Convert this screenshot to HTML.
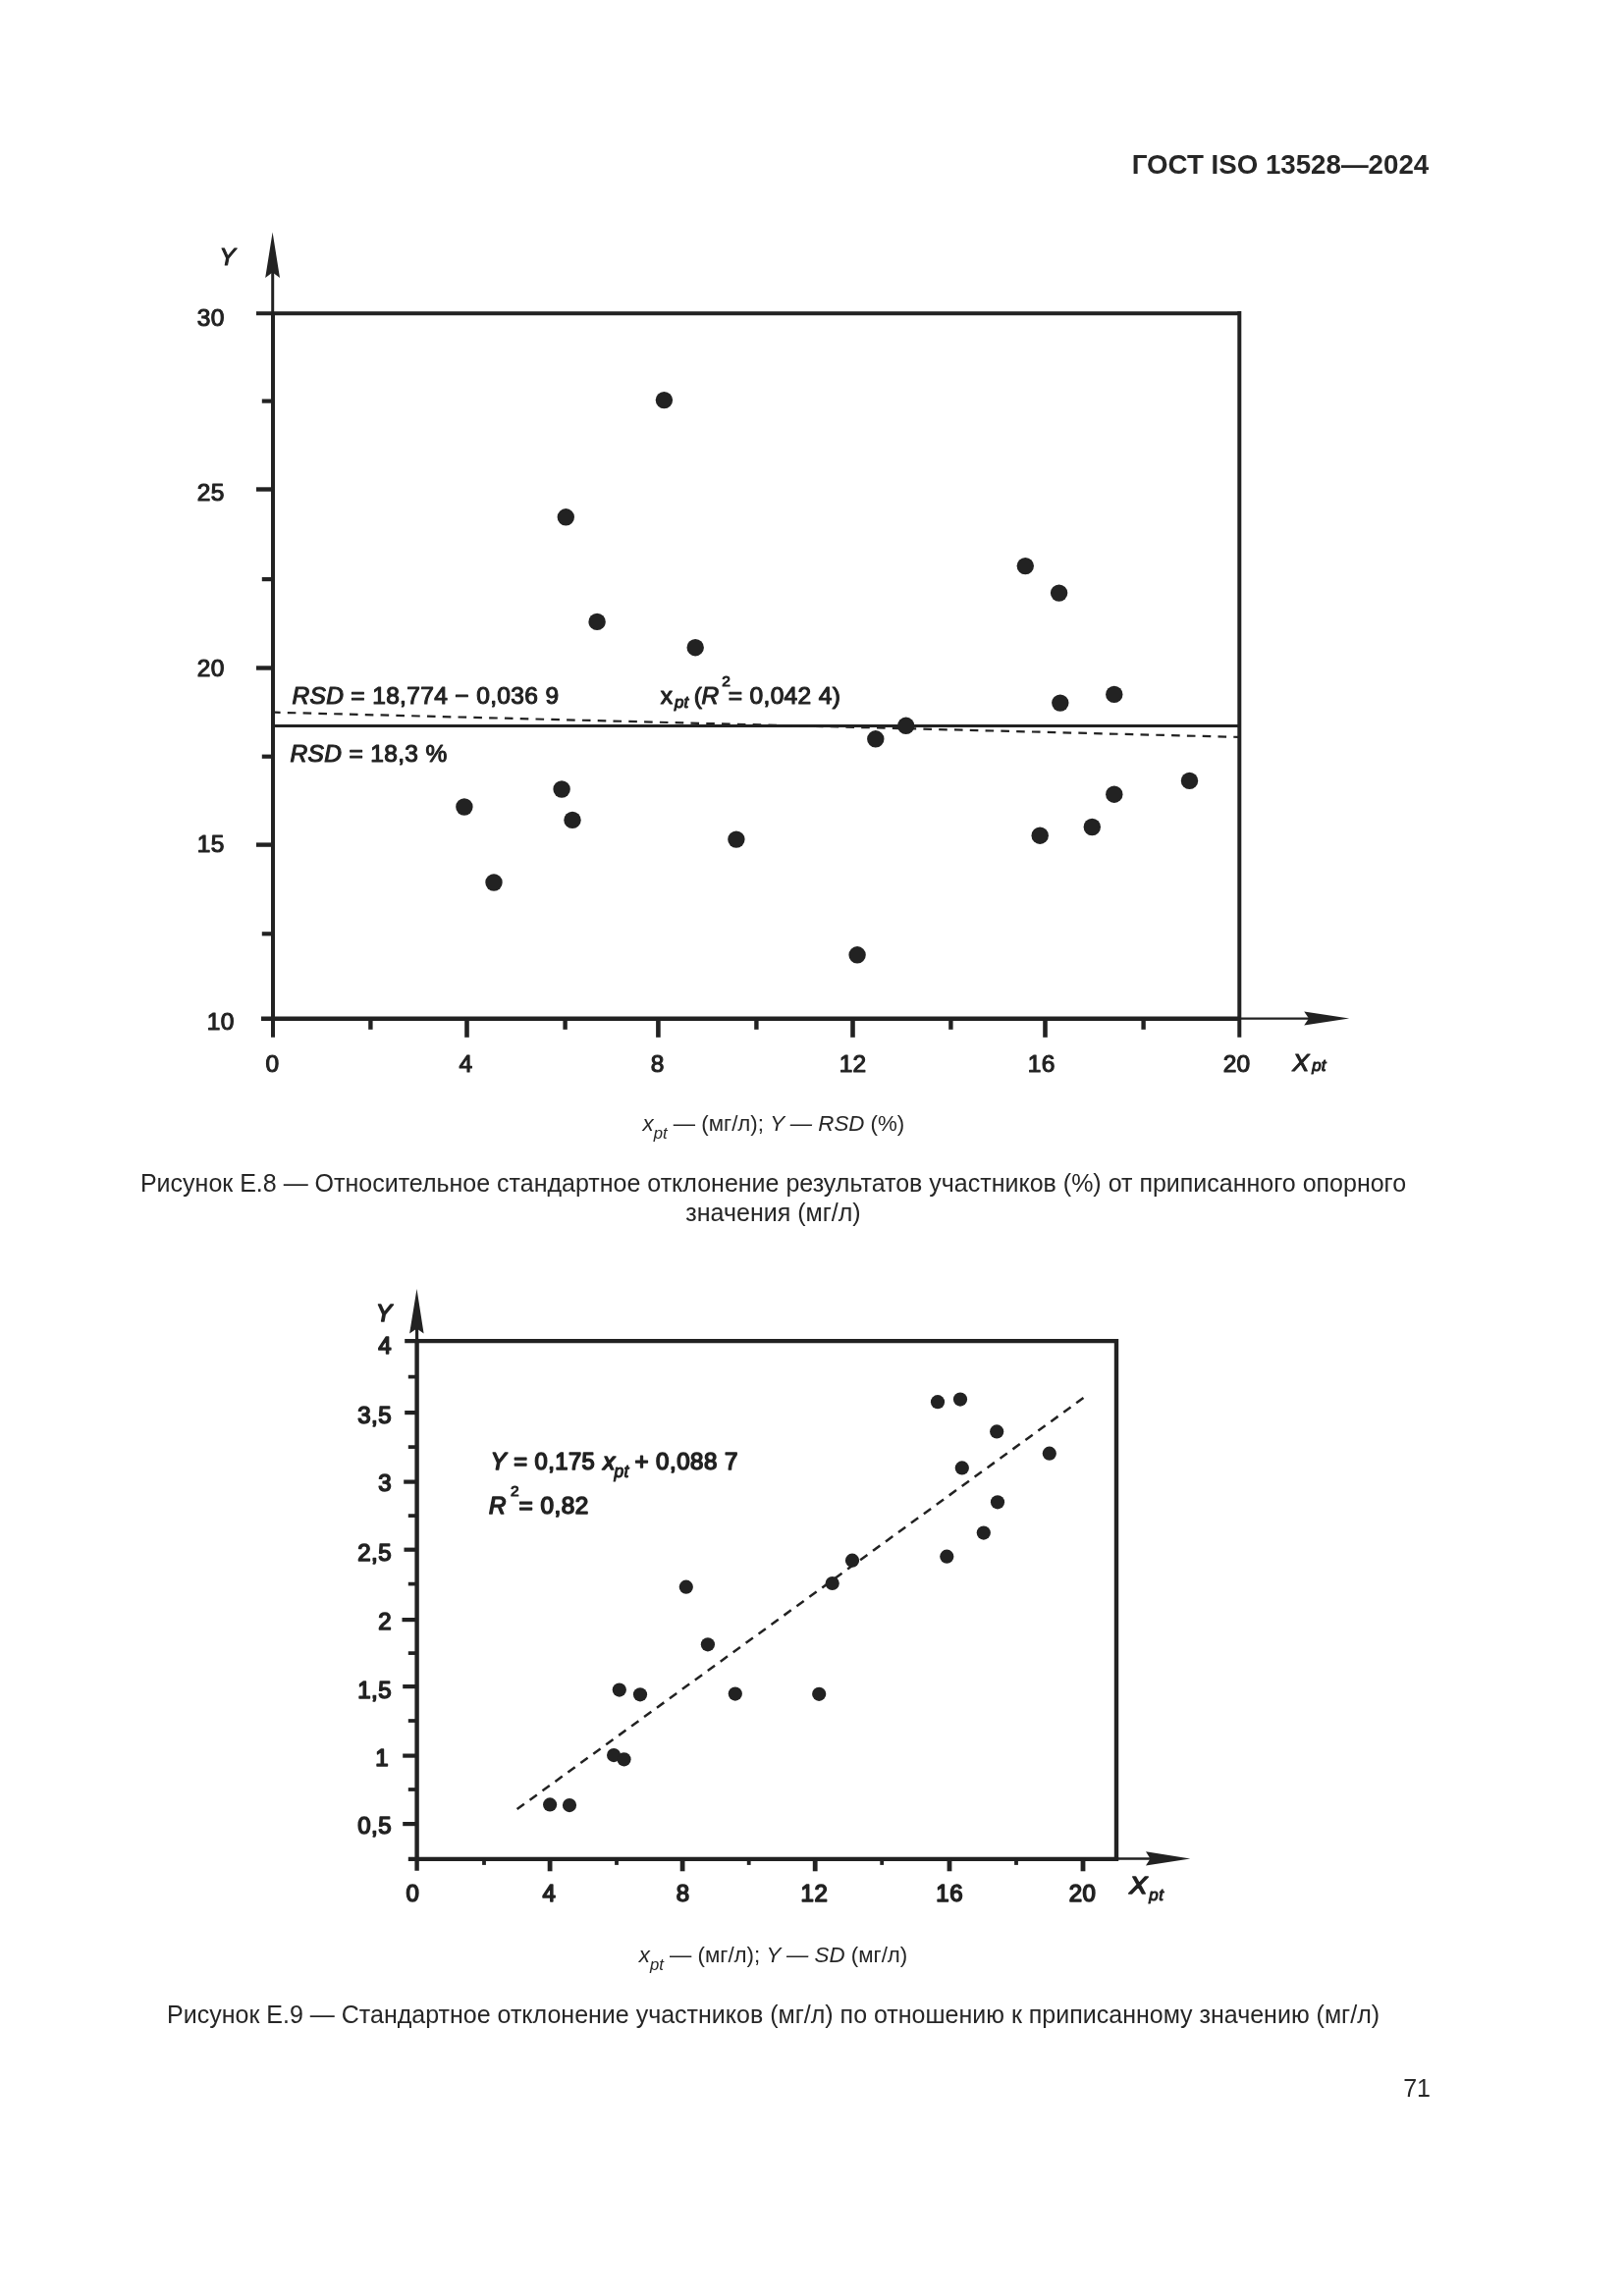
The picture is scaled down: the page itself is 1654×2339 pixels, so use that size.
<!DOCTYPE html>
<html lang="ru"><head><meta charset="utf-8"><title>ГОСТ ISO 13528—2024</title>
<style>
html,body{margin:0;padding:0;background:#fff;}
body{width:1654px;height:2339px;position:relative;overflow:hidden;font-family:"Liberation Sans",sans-serif;color:#262626;}
#pg{position:absolute;left:0;top:0;width:1654px;height:2339px;will-change:transform;}
svg{position:absolute;left:0;top:0;}
text{font-family:"Liberation Sans",sans-serif;fill:#222222;stroke:#222222;stroke-linejoin:round;white-space:pre;}
.a{font-size:24.5px;stroke-width:1.1px;letter-spacing:0.35px;}
.b{font-size:24px;stroke-width:1.55px;letter-spacing:0.5px;}
.i{font-style:italic;}
.cap{position:absolute;left:119px;width:1336px;text-align:center;font-size:25px;line-height:30px;white-space:nowrap;}
.sub{position:absolute;left:119px;width:1336px;text-align:center;font-size:22.3px;line-height:30px;white-space:nowrap;}
.sub i,.cap i{font-style:italic;}
.sub sub{font-size:0.75em;vertical-align:baseline;position:relative;top:0.46em;}
.hdr{position:absolute;right:198.8px;top:151.7px;font-size:27.7px;font-weight:bold;line-height:32px;white-space:nowrap;}
.pn{position:absolute;right:197px;top:2112px;font-size:25px;line-height:30px;}
</style></head><body><div id="pg">
<div class="hdr">ГОСТ ISO 13528—2024</div>
<svg width="1654" height="2339" viewBox="0 0 1654 2339">
<g stroke="#222222" fill="none">
<path d="M278.0 1056.8 V319.2 M261.0 319.2 H1262.3 M1262.3 317.0 V1056.8" stroke-width="4"/>
<path d="M266.0 1037.8 H1262.3" stroke-width="4.4"/>
<path d="M277.7 319.2 V275" stroke-width="3"/>
<path d="M1262.3 1037.6 H1338" stroke-width="2.2"/>
<path d="M261.0 498.5 H278.0" stroke-width="4.4"/>
<path d="M261.0 680.5 H278.0" stroke-width="4.4"/>
<path d="M261.0 860.6 H278.0" stroke-width="4.4"/>
<path d="M266.8 408.6 H278.0" stroke-width="4.2"/>
<path d="M266.8 590.1 H278.0" stroke-width="4.2"/>
<path d="M266.8 770.7 H278.0" stroke-width="4.2"/>
<path d="M266.8 951.3 H278.0" stroke-width="4.2"/>
<path d="M475.5 1037.8 V1056.8" stroke-width="4.6"/>
<path d="M670.4 1037.8 V1056.8" stroke-width="4.6"/>
<path d="M868.5 1037.8 V1056.8" stroke-width="4.6"/>
<path d="M1064.5 1037.8 V1056.8" stroke-width="4.6"/>
<path d="M377.4 1037.8 V1048.8" stroke-width="4.4"/>
<path d="M575.6 1037.8 V1048.8" stroke-width="4.4"/>
<path d="M770.4 1037.8 V1048.8" stroke-width="4.4"/>
<path d="M968.4 1037.8 V1048.8" stroke-width="4.4"/>
<path d="M1164.6 1037.8 V1048.8" stroke-width="4.4"/>
<path d="M278.0 739.5 H1262.3" stroke-width="2.8"/>
<path d="M280.0 725.7 L1261.3 750.9" stroke-width="2.2" stroke-dasharray="8.6 7.2" stroke-dashoffset="3"/>
</g>
<g fill="#222222">
<path d="M277.6 236.5 L285.0 283 L277.6 277.5 L270.2 283 Z"/>
<path d="M1374.2 1037.6 L1328.2 1030.6 L1333 1037.6 L1328.2 1044.6 Z"/>
<circle cx="676.4" cy="407.6" r="8.7"/>
<circle cx="576.3" cy="526.8" r="8.7"/>
<circle cx="608.1" cy="633.4" r="8.7"/>
<circle cx="708.2" cy="659.7" r="8.7"/>
<circle cx="472.9" cy="822.0" r="8.7"/>
<circle cx="503.0" cy="899.0" r="8.7"/>
<circle cx="572.1" cy="804.0" r="8.7"/>
<circle cx="583.0" cy="835.4" r="8.7"/>
<circle cx="749.9" cy="855.1" r="8.7"/>
<circle cx="873.1" cy="972.8" r="8.7"/>
<circle cx="891.8" cy="752.8" r="8.7"/>
<circle cx="922.7" cy="739.3" r="8.7"/>
<circle cx="1079.8" cy="716.1" r="8.7"/>
<circle cx="1134.8" cy="707.4" r="8.7"/>
<circle cx="1059.2" cy="851.2" r="8.7"/>
<circle cx="1112.3" cy="842.5" r="8.7"/>
<circle cx="1134.8" cy="809.2" r="8.7"/>
<circle cx="1211.5" cy="795.4" r="8.7"/>
<circle cx="1044.3" cy="576.6" r="8.7"/>
<circle cx="1078.6" cy="604.1" r="8.7"/>
</g>
<g class="a">
<text transform="translate(228.8 331.8) scale(1.0 1)" text-anchor="end">30</text>
<text transform="translate(228.8 510.2) scale(1.0 1)" text-anchor="end">25</text>
<text transform="translate(228.8 689.2) scale(1.0 1)" text-anchor="end">20</text>
<text transform="translate(228.8 868.2) scale(1.0 1)" text-anchor="end">15</text>
<text transform="translate(238.7 1049.2) scale(1.0 1)" text-anchor="end">10</text>
<text transform="translate(277.6 1092.0) scale(1.0 1)" text-anchor="middle">0</text>
<text transform="translate(474.6 1092.0) scale(1.0 1)" text-anchor="middle">4</text>
<text transform="translate(669.7 1092.0) scale(1.0 1)" text-anchor="middle">8</text>
<text transform="translate(868.6 1092.0) scale(1.0 1)" text-anchor="middle">12</text>
<text transform="translate(1060.7 1092.0) scale(1.0 1)" text-anchor="middle">16</text>
<text transform="translate(1259.6 1092.0) scale(1.0 1)" text-anchor="middle">20</text>
<text transform="translate(223.4 270.2) scale(1.0 1)" class="i">Y</text>
<text transform="translate(1316.2 1091.0) scale(1.05 1)" class="i">X</text>
<text transform="translate(1336.3 1091.3) scale(1.0 1)" class="i" style="font-size:17px;stroke-width:1px;letter-spacing:0">pt</text>
<text transform="translate(297.4 716.9) scale(1.0 1)"><tspan class="i">RSD</tspan> = 18,774 − 0,036 9</text>
<text transform="translate(295.5 776.3) scale(1.0 1)"><tspan class="i">RSD</tspan> = 18,3 %</text>
<text transform="translate(672.8 717.0) scale(1.0 1)">x</text>
<text transform="translate(687.1 721.2) scale(1.0 1)" class="i" style="font-size:17px;stroke-width:1px;letter-spacing:0">pt</text>
<text transform="translate(706.8 717.0) scale(1.0 1)">(</text>
<text transform="translate(714.5 717.0) scale(1.0 1)" class="i">R</text>
<text transform="translate(735.2 699.4) scale(1.0 1)" style="font-size:15.5px;stroke-width:1px">2</text>
<text transform="translate(741.7 717.0) scale(1.0 1)">= 0,042 4)</text>
</g>
<g stroke="#222222" fill="none">
<path d="M424.6 1905.7 V1366.1 M412.20000000000005 1366.1 H1137.0 M1137.0 1364.0 V1893.9" stroke-width="4.4"/>
<path d="M415.8 1893.9 H1139.2" stroke-width="4.4"/>
<path d="M424.6 1366.1 V1352" stroke-width="3.2"/>
<path d="M1137.0 1893.5 H1176" stroke-width="2.7"/>
<path d="M412.2 1439.1 H424.6" stroke-width="4.2"/>
<path d="M411.2 1509.6 H424.6" stroke-width="4.2"/>
<path d="M411.5 1578.7 H424.6" stroke-width="4.2"/>
<path d="M409.5 1650.1 H424.6" stroke-width="4.2"/>
<path d="M410.2 1718.1 H424.6" stroke-width="4.2"/>
<path d="M410.2 1788.6 H424.6" stroke-width="4.2"/>
<path d="M410.2 1858.1 H424.6" stroke-width="4.2"/>
<path d="M415.8 1402.6 H424.6" stroke-width="3.7"/>
<path d="M415.8 1474.1 H424.6" stroke-width="3.7"/>
<path d="M415.8 1544.1 H424.6" stroke-width="3.7"/>
<path d="M415.8 1613.6 H424.6" stroke-width="3.7"/>
<path d="M415.8 1684.1 H424.6" stroke-width="3.7"/>
<path d="M415.8 1753.0 H424.6" stroke-width="3.7"/>
<path d="M415.8 1823.0 H424.6" stroke-width="3.7"/>
<path d="M560.1 1893.9 V1906.3000000000002" stroke-width="4.8"/>
<path d="M695.1 1893.9 V1906.3000000000002" stroke-width="4.8"/>
<path d="M830.2 1893.9 V1906.3000000000002" stroke-width="4.8"/>
<path d="M967.0 1893.9 V1906.3000000000002" stroke-width="4.8"/>
<path d="M1103.0 1893.9 V1906.3000000000002" stroke-width="4.8"/>
<path d="M493.0 1893.9 V1899.9" stroke-width="3.8"/>
<path d="M628.0 1893.9 V1899.9" stroke-width="3.8"/>
<path d="M762.7 1893.9 V1899.9" stroke-width="3.8"/>
<path d="M898.2 1893.9 V1899.9" stroke-width="3.8"/>
<path d="M1035.0 1893.9 V1899.9" stroke-width="3.8"/>
<path d="M526.6 1843.1 L1105.2 1422.8" stroke-width="2.5" stroke-dasharray="9 7"/>
</g>
<g fill="#222222">
<path d="M424.5 1313 L431.6 1358.6 L424.5 1353.5 L417.1 1358.6 Z"/>
<path d="M1212.3 1893.5 L1167 1886.3000000000002 L1171.5 1893.5 L1167 1900.5 Z"/>
<circle cx="560.1" cy="1838.4" r="7.1"/>
<circle cx="580.0" cy="1839.1" r="7.1"/>
<circle cx="625.1" cy="1788.1" r="7.1"/>
<circle cx="635.5" cy="1792.3" r="7.1"/>
<circle cx="630.8" cy="1721.6" r="7.1"/>
<circle cx="652.0" cy="1726.3" r="7.1"/>
<circle cx="698.8" cy="1616.7" r="7.1"/>
<circle cx="720.9" cy="1675.3" r="7.1"/>
<circle cx="748.8" cy="1725.6" r="7.1"/>
<circle cx="834.2" cy="1725.8" r="7.1"/>
<circle cx="847.7" cy="1613.0" r="7.1"/>
<circle cx="868.0" cy="1589.7" r="7.1"/>
<circle cx="955.0" cy="1428.2" r="7.1"/>
<circle cx="978.0" cy="1425.6" r="7.1"/>
<circle cx="1015.2" cy="1458.4" r="7.1"/>
<circle cx="1068.8" cy="1480.7" r="7.1"/>
<circle cx="979.8" cy="1495.4" r="7.1"/>
<circle cx="1016.0" cy="1530.3" r="7.1"/>
<circle cx="1001.8" cy="1561.6" r="7.1"/>
<circle cx="964.3" cy="1585.7" r="7.1"/>
</g>
<g class="b">
<text x="399.0" y="1379.3" text-anchor="end">4</text>
<text x="399.0" y="1449.7" text-anchor="end">3,5</text>
<text x="399.0" y="1519.4" text-anchor="end">3</text>
<text x="399.0" y="1589.7" text-anchor="end">2,5</text>
<text x="399.0" y="1659.8" text-anchor="end">2</text>
<text x="399.0" y="1729.7" text-anchor="end">1,5</text>
<text x="396.2" y="1798.6" text-anchor="end">1</text>
<text x="399.0" y="1868.2" text-anchor="end">0,5</text>
<text x="420.5" y="1937.3" text-anchor="middle">0</text>
<text x="559.4" y="1937.3" text-anchor="middle">4</text>
<text x="695.6" y="1937.3" text-anchor="middle">8</text>
<text x="829.4" y="1937.3" text-anchor="middle">12</text>
<text x="967.2" y="1937.3" text-anchor="middle">16</text>
<text x="1102.5" y="1937.3" text-anchor="middle">20</text>
<text x="383" y="1346" class="i">Y</text>
<text transform="translate(1150.2 1929.2) scale(1.13 0.97)" class="i">X</text>
<text x="1170.2" y="1935.8" class="i" style="font-size:17px;stroke-width:1px">pt</text>
<text x="499.8" y="1497.4" textLength="106.4" lengthAdjust="spacingAndGlyphs"><tspan class="i">Y</tspan> = 0,175</text>
<text x="614.3" y="1497.4" class="i">x</text>
<text x="625.4" y="1504.6" class="i" style="font-size:17.5px;stroke-width:1px">pt</text>
<text x="646.4" y="1497.4" textLength="105.4" lengthAdjust="spacingAndGlyphs">+ 0,088 7</text>
<text x="498.1" y="1542.2" class="i">R</text>
<text x="520.1" y="1524.3" style="font-size:15.5px;stroke-width:1px">2</text>
<text x="528.6" y="1542.1" textLength="71.2" lengthAdjust="spacingAndGlyphs">= 0,82</text>
</g>
</svg>
<div class="sub" style="top:1130.3px;left:119.9px"><i>x<sub>pt</sub></i> — (мг/л); <i>Y — RSD</i> (%)</div>
<div class="cap" style="top:1189.8px;left:119.5px">Рисунок Е.8 — Относительное стандартное отклонение результатов участников (%) от приписанного опорного<br>значения (мг/л)</div>
<div class="sub" style="top:1977.4px;left:119.5px"><i>x<sub>pt</sub></i> — (мг/л); <i>Y — SD</i> (мг/л)</div>
<div class="cap" style="top:2036.9px;left:119.6px">Рисунок Е.9 — Стандартное отклонение участников (мг/л) по отношению к приписанному значению (мг/л)</div>
<div class="pn">71</div>
</div></body></html>
